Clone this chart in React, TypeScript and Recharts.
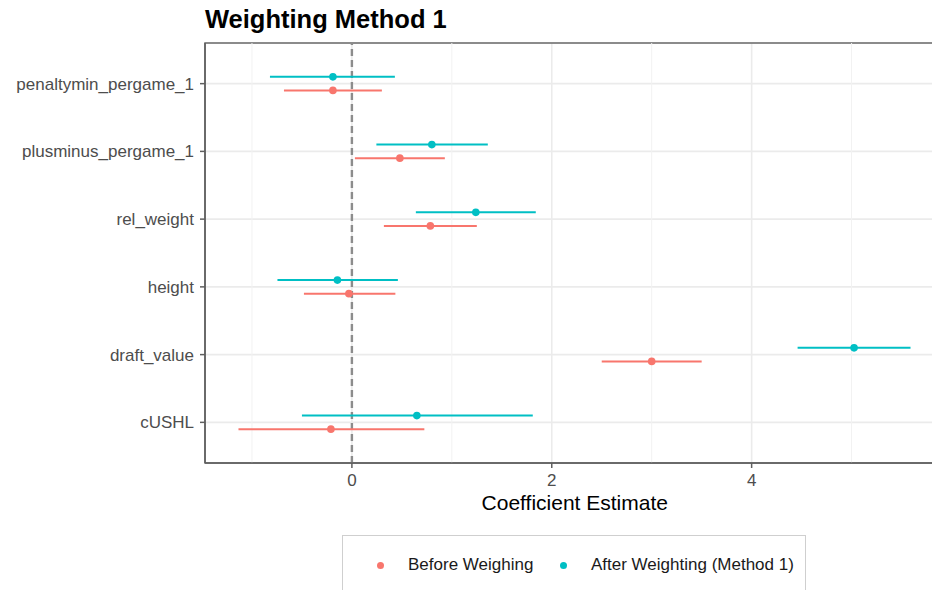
import React from "react";
import {
  ScatterChart,
  Scatter,
  XAxis,
  YAxis,
  CartesianGrid,
  ErrorBar,
  ReferenceLine,
  ReferenceArea,
} from "recharts";

// coefficient estimates with 95% intervals, one row per predictor
const categories = [
  "penaltymin_pergame_1",
  "plusminus_pergame_1",
  "rel_weight",
  "height",
  "draft_value",
  "cUSHL",
];
const beforeEstimate = [-0.19, 0.48, 0.785, -0.03, 3.0, -0.21];
const beforeLower = [-0.68, 0.03, 0.32, -0.48, 2.5, -1.135];
const beforeUpper = [0.3, 0.93, 1.25, 0.435, 3.5, 0.725];
const afterEstimate = [-0.19, 0.8, 1.24, -0.145, 5.025, 0.65];
const afterLower = [-0.82, 0.245, 0.64, -0.745, 4.46, -0.5];
const afterUpper = [0.43, 1.36, 1.84, 0.46, 5.59, 1.81];

const xTicks = [0, 2, 4];
const xMinorTicks = [-1, 1, 3, 5];

const RED = "#F8766D";
const TEAL = "#00BFC4";
const FONT = "'Liberation Sans', Arial, Helvetica, sans-serif";

// dodge the two models a little around each category row
const DODGE = 0.1;

function buildSeries(est: number[], lo: number[], hi: number[], shift: number) {
  return est.map((v, i) => ({
    x: v,
    y: i + 1 + shift,
    err: [v - lo[i], hi[i] - v],
  }));
}

const beforeData = buildSeries(beforeEstimate, beforeLower, beforeUpper, DODGE);
const afterData = buildSeries(afterEstimate, afterLower, afterUpper, -DODGE);

const dot = (color: string) => (props: any) =>
  <circle cx={props.cx} cy={props.cy} r={3.8} fill={color} />;

const legendItems = [
  { label: "Before Weighing", color: RED },
  { label: "After Weighting (Method 1)", color: TEAL },
];

export default function App() {
  return (
    <div
      style={{
        position: "absolute",
        left: 0,
        top: 0,
        width: 932,
        height: 590,
        overflow: "hidden",
        background: "#fff",
        fontFamily: FONT,
      }}
    >
      <div
        style={{
          position: "absolute",
          left: 205,
          top: 7,
          fontSize: 25.5,
          lineHeight: 1,
          fontWeight: "bold",
          color: "#000",
        }}
      >
        Weighting Method 1
      </div>

      <ScatterChart
        width={950}
        height={590}
        margin={{ top: 43, right: 5.5, bottom: 95, left: 5 }}
      >
        {xMinorTicks.map((t) => (
          <ReferenceLine key={t} x={t} stroke="#f2f2f2" strokeWidth={1} />
        ))}
        <CartesianGrid stroke="#ebebeb" strokeWidth={1.6} />
        <XAxis
          type="number"
          dataKey="x"
          domain={[-1.47, 5.93]}
          ticks={xTicks}
          allowDataOverflow
          height={32}
          tickSize={5}
          tickMargin={6}
          axisLine={{ stroke: "#5f5f5f", strokeWidth: 1.5 }}
          tickLine={{ stroke: "#5f5f5f", strokeWidth: 1.5 }}
          tick={{ fill: "#4d4d4d", fontSize: 17 }}
          label={{
            value: "Coefficient Estimate",
            position: "bottom",
            offset: 0,
            fill: "#000",
            fontSize: 21,
          }}
        />
        <YAxis
          type="number"
          dataKey="y"
          domain={[0.4, 6.6]}
          reversed
          ticks={[1, 2, 3, 4, 5, 6]}
          interval={0}
          width={200}
          tickSize={5}
          tickMargin={6}
          tickFormatter={(v: number) => categories[v - 1]}
          axisLine={{ stroke: "#5f5f5f", strokeWidth: 1.5 }}
          tickLine={{ stroke: "#5f5f5f", strokeWidth: 1.5 }}
          tick={{ fill: "#4d4d4d", fontSize: 17 }}
        />
        <ReferenceArea
          x1={-1.47}
          x2={5.93}
          y1={0.4}
          y2={6.6}
          fill="none"
          stroke="#6a6a6a"
          strokeWidth={1.5}
          fillOpacity={0}
        />
        <ReferenceLine
          x={0}
          stroke="#8c8c8c"
          strokeWidth={2.4}
          strokeDasharray="7 4"
        />
        <Scatter
          name="Before Weighing"
          data={beforeData}
          fill={RED}
          shape={dot(RED)}
          isAnimationActive={false}
        >
          <ErrorBar dataKey="err" direction="x" width={0} stroke={RED} strokeWidth={2} />
        </Scatter>
        <Scatter
          name="After Weighting (Method 1)"
          data={afterData}
          fill={TEAL}
          shape={dot(TEAL)}
          isAnimationActive={false}
        >
          <ErrorBar dataKey="err" direction="x" width={0} stroke={TEAL} strokeWidth={2} />
        </Scatter>
      </ScatterChart>

      {/* legend box sits below the panel, partly cut by the page edge */}
      <div
        style={{
          position: "absolute",
          left: 342,
          top: 535,
          width: 462,
          height: 80,
          border: "1.5px solid #cfcfcf",
        }}
      >
        {legendItems.map((item, i) => (
          <div
            key={item.label}
            style={{
              position: "absolute",
              left: i === 0 ? 34 : 217,
              top: 19,
              display: "flex",
              alignItems: "center",
              fontSize: 17,
              color: "#1a1a1a",
              whiteSpace: "nowrap",
            }}
          >
            <span
              style={{
                display: "inline-block",
                width: 7,
                height: 7,
                borderRadius: "50%",
                background: item.color,
                marginRight: 24,
              }}
            />
            <span>{item.label}</span>
          </div>
        ))}
      </div>
    </div>
  );
}
